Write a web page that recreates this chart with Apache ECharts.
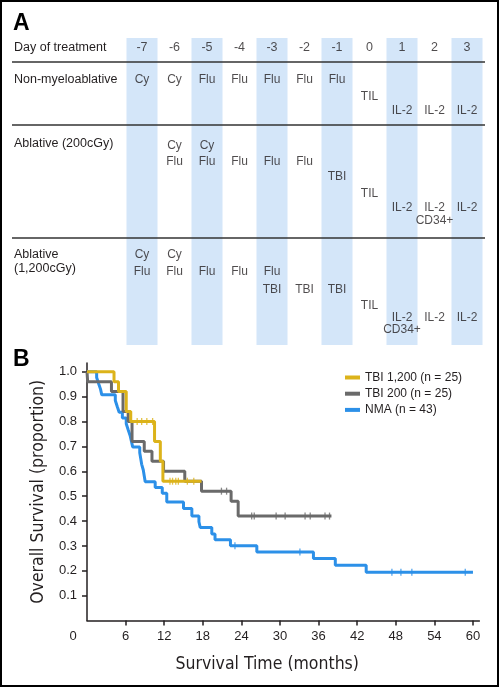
<!DOCTYPE html>
<html><head><meta charset="utf-8">
<script src="https://cdn.jsdelivr.net/npm/echarts@6/dist/echarts.min.js"></script>
<style>html,body{margin:0;padding:0;background:#fff}#c{width:500px;height:688px}</style>
</head><body><div id="c"></div>
<script>
// ---------- Panel A data ----------
const days = ['-7','-6','-5','-4','-3','-2','-1','0','1','2','3'];
const shadedDays = ['-7','-5','-3','-1','1','3'];
const headerLabel = 'Day of treatment';
const regimens = ['Non-myeloablative', 'Ablative (200cGy)', 'Ablative\n(1,200cGy)'];
const scheduleNMA = [['Cy','-7'],['Cy','-6'],['Flu','-5'],['Flu','-4'],['Flu','-3'],['Flu','-2'],['Flu','-1'],['TIL','0'],['IL-2','1'],['IL-2','2'],['IL-2','3']];
const scheduleTBI200 = [['Cy','-6'],['Cy','-5'],['Flu','-6'],['Flu','-5'],['Flu','-4'],['Flu','-3'],['Flu','-2'],['TBI','-1'],['TIL','0'],['IL-2','1'],['IL-2','2'],['IL-2','3'],['CD34+','2']];
const scheduleTBI1200 = [['Cy','-7'],['Cy','-6'],['Flu','-7'],['Flu','-6'],['Flu','-5'],['Flu','-4'],['Flu','-3'],['TBI','-3'],['TBI','-2'],['TBI','-1'],['TIL','0'],['IL-2','1'],['IL-2','2'],['IL-2','3'],['CD34+','1']];

// ---------- Panel B data ([month, survival] after each event) ----------
const seriesNames = ['TBI 1,200 (n = 25)', 'TBI 200 (n = 25)', 'NMA (n = 43)'];
const tbi1200Steps = [[0,1],[4.2,0.96],[4.9,0.92],[6.1,0.84],[6.8,0.80],[10.5,0.72],[11.4,0.64],[11.8,0.56],[17.8,0.56]];
const tbi1200Censored = [7.8,8.5,9.3,10.2,12.9,13.3,13.8,14.2,15.6,16.6];
const tbi200Steps = [[0,1],[0.1,0.96],[3.8,0.92],[5.6,0.84],[6.4,0.80],[7.0,0.72],[8.9,0.68],[10.1,0.64],[11.9,0.60],[15.2,0.56],[17.8,0.52],[22.4,0.48],[23.5,0.42],[38,0.42]];
const tbi200Censored = [20.9,21.7,25.6,26.0,29.4,30.8,33.9,34.7,37.0,37.7];
const nmaSteps = [[0,1],[1.5,0.977],[1.8,0.953],[2.1,0.930],[2.3,0.907],[4.4,0.884],[4.7,0.860],[5.0,0.837],[5.5,0.814],[6.1,0.791],[6.4,0.767],[6.7,0.744],[6.9,0.721],[7.1,0.698],[8.2,0.674],[8.35,0.651],[8.5,0.628],[8.75,0.605],[8.9,0.581],[9.05,0.558],[10.6,0.535],[11.7,0.512],[12.4,0.477],[15.0,0.450],[16.3,0.420],[17.4,0.397],[17.6,0.374],[19.4,0.348],[19.9,0.325],[22.3,0.301],[26.4,0.276],[35.2,0.250],[38.6,0.222],[43.4,0.194],[60,0.194]];
const nmaCensored = [23.0,33.1,47.4,48.8,50.5,58.8];
const xTickValues = [0,6,12,18,24,30,36,42,48,54,60];
const yTickValues = [0.1,0.2,0.3,0.4,0.5,0.6,0.7,0.8,0.9,1.0];

// ---------- styles / layout ----------
const TXT = '#231f20';
const FONT = 'Liberation Sans, Arial, sans-serif';
const NARROW = 'Liberation Sans Narrow, DejaVu Sans Condensed, sans-serif';
const colors = ['#dcb31a', '#6a6a6a', '#2c90e8'];
const rulesY = [62, 125, 238];
const rowLabelY = [80, 144, 255];
const agentY = [
  {Cy:80, Flu:80, TIL:97, 'IL-2':111},
  {Cy:146, Flu:162, TBI:177, TIL:194, 'IL-2':208, 'CD34+':221},
  {Cy:255, Flu:272, TBI:290, TIL:306, 'IL-2':318, 'CD34+':330}
];
const bandTop = 38, bandBottom = 345, headerY = 48;

const schedules = [scheduleNMA, scheduleTBI200, scheduleTBI1200];
const cellData = [];
schedules.forEach((sch, r) => sch.forEach(([agent, day]) => cellData.push({name: agent, value: [day, agentY[r][agent]]})));
const headerData = days.map(d => ({name: d, value: [d, headerY]}));

function survAt(steps, t) { let s = steps[0][1]; for (const p of steps) { if (p[0] <= t) s = p[1]; } return s; }
const kmSets = [[tbi1200Steps, tbi1200Censored], [tbi200Steps, tbi200Censored], [nmaSteps, nmaCensored]];

const chart = echarts.init(document.getElementById('c'), null, {renderer: 'canvas'});

const graphic = [
  {type:'rect', shape:{x:1, y:1, width:497, height:685}, style:{fill:'none', stroke:'#000', lineWidth:2}, z:20},
  {type:'text', left:13, top:12, style:{text:'A', font:'bold 23px ' + FONT, fill:'#000'}},
  {type:'text', left:13, top:348, style:{text:'B', font:'bold 23px ' + FONT, fill:'#000'}},
  {type:'text', left:14, top:headerY - 7, style:{text:headerLabel, font:'12.5px ' + FONT, fill:TXT}}
];
rulesY.forEach(y => graphic.push({type:'line', shape:{x1:12, y1:y, x2:485, y2:y}, style:{stroke:'#333', lineWidth:1.5}, z:10}));
regimens.forEach((r, i) => graphic.push({type:'text', left:14, top:rowLabelY[i] - 7, style:{text:r, font:'12.5px ' + FONT, fill:TXT, lineHeight:14}}));

const series = [
  {type:'bar', xAxisIndex:0, yAxisIndex:0, stack:'band', barWidth:31, silent:true,
   data: days.map(d => shadedDays.includes(d) ? bandTop : '-'), itemStyle:{color:'rgba(0,0,0,0)'}},
  {type:'bar', xAxisIndex:0, yAxisIndex:0, stack:'band', barWidth:31, silent:true,
   data: days.map(d => shadedDays.includes(d) ? bandBottom - bandTop : '-'), itemStyle:{color:'#d4e6f9'}},
  {type:'scatter', xAxisIndex:0, yAxisIndex:0, symbolSize:1, silent:true, itemStyle:{color:'rgba(0,0,0,0)'},
   data: headerData, label:{show:true, position:'inside', formatter:'{b}', fontSize:12.5, fontFamily:FONT, color:TXT}, z:5},
  {type:'scatter', xAxisIndex:0, yAxisIndex:0, symbolSize:1, silent:true, itemStyle:{color:'rgba(0,0,0,0)'},
   data: cellData, label:{show:true, position:'inside', formatter:'{b}', fontSize:12, fontFamily:FONT, color:TXT}, z:5}
];
// draw NMA first, then TBI 200, then TBI 1,200 on top
[2,1,0].forEach(i => {
  const [steps, cens] = kmSets[i];
  series.push({type:'line', name:seriesNames[i], xAxisIndex:1, yAxisIndex:1, step:'end', symbol:'none', silent:true,
    data: steps, lineStyle:{color:colors[i], width:3}, itemStyle:{color:colors[i]}, z:3 + (2 - i)});
  series.push({type:'scatter', name:seriesNames[i] + ' censored', xAxisIndex:1, yAxisIndex:1, symbol:'rect', symbolSize:[1.3, 7], silent:true,
    data: cens.map(t => [t, survAt(steps, t)]), itemStyle:{color:colors[i]}, z:3 + (2 - i)});
});

const axisCol = {color:'#231f20', width:1.5};
chart.setOption({
  animation:false,
  backgroundColor:'#fff',
  graphic: graphic,
  legend: {data: seriesNames, orient:'vertical', left:345, top:370.5, padding:0, itemWidth:15, itemHeight:4, icon:'rect', itemGap:2.2,
    textStyle:{fontSize:12, fontFamily:FONT, color:TXT, lineHeight:14}},
  grid: [
    {left:125.75, width:357.5, top:0, height:688},
    {left:87, right:20.6, top:363, bottom:67.4}
  ],
  xAxis: [
    {gridIndex:0, type:'category', data:days, show:false, boundaryGap:true},
    {gridIndex:1, type:'value', min:0, max:61, splitLine:{show:false},
     axisLine:{lineStyle:axisCol}, axisTick:{customValues:xTickValues.slice(1), length:5, lineStyle:axisCol},
     axisLabel:{customValues:xTickValues, margin:9, fontSize:13, fontFamily:FONT, color:TXT,
       formatter: v => v === 0 ? '{z|0}' : String(v), rich:{z:{fontSize:13, fontFamily:FONT, color:TXT, padding:[0,28,0,0]}}},
     name:'Survival Time (months)', nameLocation:'middle', nameGap:35,
     nameTextStyle:{fontSize:17.5, fontFamily:NARROW, color:TXT, padding:[0,32,0,0]}}
  ],
  yAxis: [
    {gridIndex:0, type:'value', min:0, max:688, inverse:true, show:false},
    {gridIndex:1, type:'value', min:0, max:1.035, splitLine:{show:false},
     axisLine:{lineStyle:axisCol}, axisTick:{customValues:yTickValues, length:5, lineStyle:axisCol},
     axisLabel:{customValues:yTickValues, margin:10, fontSize:13, fontFamily:FONT, color:TXT, formatter: v => v.toFixed(1)},
     name:'Overall Survival (proportion)', nameLocation:'middle', nameGap:40,
     nameTextStyle:{fontSize:17.5, fontFamily:NARROW, color:TXT}}
  ],
  series: series
});
</script></body></html>
